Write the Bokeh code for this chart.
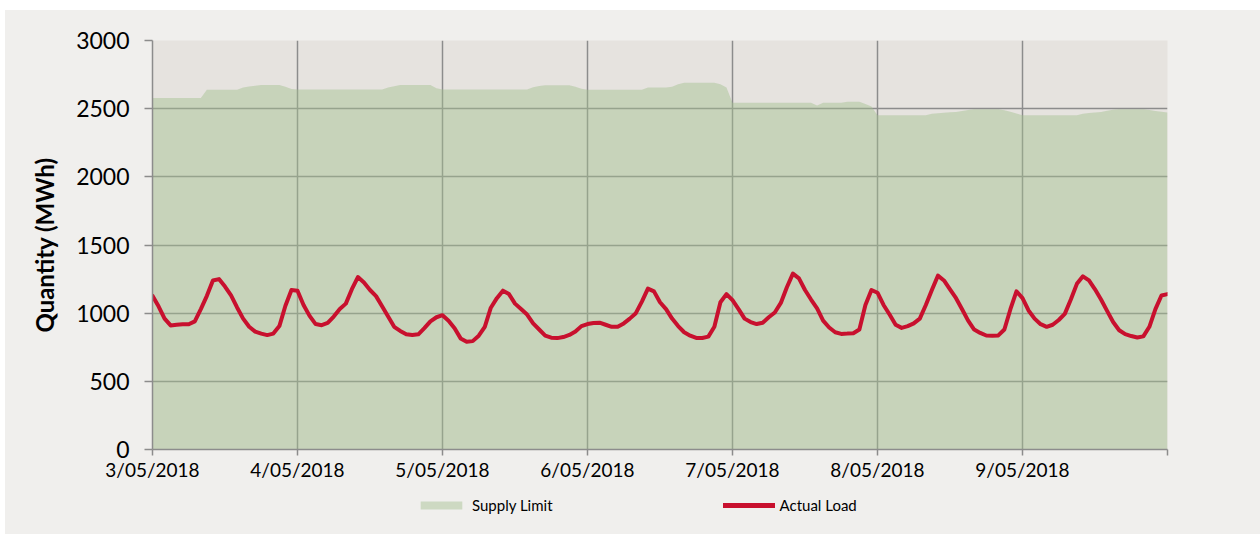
from datetime import datetime, timedelta
from bokeh.plotting import figure
from bokeh.models import Range1d, FixedTicker, Legend, LegendItem, ColumnDataSource, Spacer
from bokeh.layouts import column, row
from bokeh.embed import file_html
from bokeh.resources import INLINE

# ---- data (hourly, starting 3/05/2018 00:00) ----
start_date = datetime(2018, 5, 3)
n_days = 7

supply_limit = (
    [2578] * 9 + [2639] * 6 + [2655, 2662, 2668] + [2674] * 4 + [2661, 2645]
    + [2640] * 15 + [2655, 2665] + [2674] * 6 + [2650]
    + [2641] * 15 + [2657, 2666] + [2672] * 5 + [2660, 2647]
    + [2639] * 10 + [2656] * 4 + [2660, 2680] + [2691] * 6 + [2680, 2655]
    + [2544] * 14 + [2524] + [2544] * 4 + [2551] * 3 + [2535, 2515]
    + [2451] * 9 + [2463, 2466, 2470, 2473, 2476, 2482, 2490] + [2495] * 5 + [2488, 2478, 2465]
    + [2451] * 10 + [2463, 2468, 2472, 2476, 2485, 2492] + [2495] * 5 + [2490, 2483, 2477, 2471]
)

actual_load = [
    1127, 1050, 960, 910, 915, 919, 919, 940, 1030, 1127, 1240, 1250,
    1195, 1130, 1042, 960, 900, 865, 850, 839, 850, 905, 1054, 1170,
    1165, 1060, 980, 920, 912, 928, 975, 1030, 1070, 1176, 1265, 1225,
    1170, 1125, 1050, 975, 900, 870, 846, 840, 845, 890, 940, 970,
    985, 945, 890, 815, 790, 795, 835, 900, 1040, 1110, 1165, 1140,
    1070, 1030, 990, 925, 880, 835, 820, 817, 825, 840, 865, 905,
    920, 928, 930, 915, 900, 900, 925, 960, 1000, 1085, 1180, 1160,
    1080, 1030, 960, 905, 860, 835, 818, 818, 828, 900, 1080, 1140,
    1095, 1030, 960, 935, 920, 930, 970, 1005, 1075, 1190, 1290, 1255,
    1170, 1100, 1035, 945, 895, 860, 848, 850, 853, 880, 1060, 1170,
    1150, 1060, 990, 915, 892, 905, 925, 960, 1060, 1170, 1275, 1240,
    1175, 1110, 1029, 945, 880, 855, 836, 834, 837, 880, 1029, 1160,
    1110, 1020, 960, 919, 900, 915, 950, 995, 1100, 1215, 1270, 1240,
    1175, 1100, 1017, 935, 875, 846, 832, 822, 830, 900, 1030, 1130,
    1140,
]

y_ticks = [0, 500, 1000, 1500, 2000, 2500, 3000]
day_labels = ["3/05/2018", "4/05/2018", "5/05/2018", "6/05/2018",
              "7/05/2018", "8/05/2018", "9/05/2018", ""]

times = [start_date + timedelta(hours=h) for h in range(len(actual_load))]
src = ColumnDataSource(dict(t=times, supply=supply_limit, load=actual_load,
                            zero=[0] * len(times)))

FONT = "Lato"
OUTER_BG = "#f0efed"
PLOT_BG = "#e6e3df"
GRID = "#8c8c8c"
AREA_COLOR = "#a1bf8f"
LINE_COLOR = "#c8102e"

end_date = start_date + timedelta(days=n_days)

p = figure(width=1255, height=475, x_axis_type="datetime",
           output_backend="svg", toolbar_location=None,
           min_border_left=147, min_border_top=30,
           min_border_right=93, min_border_bottom=36)
p.background_fill_color = PLOT_BG
p.border_fill_color = OUTER_BG
p.outline_line_color = None
p.x_range = Range1d(start_date, end_date)
p.y_range = Range1d(0, 3000)

p.varea(x="t", y1="zero", y2="supply", source=src,
        fill_color=AREA_COLOR, fill_alpha=0.45)
p.line(x="t", y="load", source=src, line_color=LINE_COLOR,
       line_width=4, line_join="round", line_cap="round")

day_ms = [(start_date + timedelta(days=d) - datetime(1970, 1, 1)).total_seconds() * 1000
          for d in range(n_days + 1)]
p.xaxis.ticker = FixedTicker(ticks=day_ms)
p.xaxis.major_label_overrides = {ms: lab for ms, lab in zip(day_ms, day_labels)}
p.yaxis.ticker = FixedTicker(ticks=y_ticks)

for ax in (p.xaxis[0], p.yaxis[0]):
    ax.axis_line_color = GRID
    ax.axis_line_width = 1.5
    ax.major_tick_line_color = GRID
    ax.major_tick_line_width = 1.5
    ax.major_tick_in = 0
    ax.minor_tick_line_color = None
    ax.major_label_text_font = FONT
    ax.major_label_text_color = "#000000"

p.yaxis.major_tick_out = 8
p.yaxis.major_label_text_font_size = "23px"
p.yaxis.major_label_standoff = 15
p.yaxis.axis_label = "Quantity (MWh)"
p.yaxis.axis_label_text_font = FONT
p.yaxis.axis_label_text_font_style = "bold"
p.yaxis.axis_label_text_font_size = "24px"
p.yaxis.axis_label_text_color = "#000000"
p.yaxis.axis_label_standoff = 14

p.xaxis.major_tick_out = 6
p.xaxis.major_label_text_font_size = "19px"
p.xaxis.major_label_standoff = 2

p.xgrid.ticker = FixedTicker(ticks=day_ms)
p.ygrid.ticker = FixedTicker(ticks=y_ticks)
for g in (p.xgrid[0], p.ygrid[0]):
    g.grid_line_color = GRID
    g.grid_line_width = 1.5

# ---- legend strip (same series, drawn out of view so only the legend shows) ----
lg = figure(width=1255, height=49, x_axis_type="datetime",
            output_backend="svg", toolbar_location=None,
            x_axis_location=None, y_axis_location=None, min_border=0)
lg.background_fill_color = None
lg.border_fill_color = None
lg.outline_line_color = None
lg.grid.visible = False
lg.x_range = Range1d(start_date, end_date)
lg.y_range = Range1d(5000, 6000)
lg_area = lg.varea(x="t", y1="zero", y2="supply", source=src,
                   fill_color=AREA_COLOR, fill_alpha=0.45)
lg_line = lg.line(x="t", y="load", source=src, line_color=LINE_COLOR,
                  line_width=5, line_cap="round")

legend = Legend(items=[LegendItem(label="Supply Limit", renderers=[lg_area]),
                       LegendItem(label="Actual Load", renderers=[lg_line])],
                orientation="horizontal", location=(263, 20),
                background_fill_alpha=0, border_line_color=None,
                glyph_width=52, glyph_height=10, label_standoff=5,
                spacing=170, padding=0, margin=0,
                label_text_font=FONT, label_text_font_size="15px",
                label_text_color="#000000")
lg.add_layout(legend, "center")

inner = column(p, lg, spacing=0, styles={"background-color": OUTER_BG})
layout = column(Spacer(height=10),
                row(Spacer(width=5), inner, spacing=0),
                spacing=0)

open("out.html", "w").write(file_html(layout, INLINE))
